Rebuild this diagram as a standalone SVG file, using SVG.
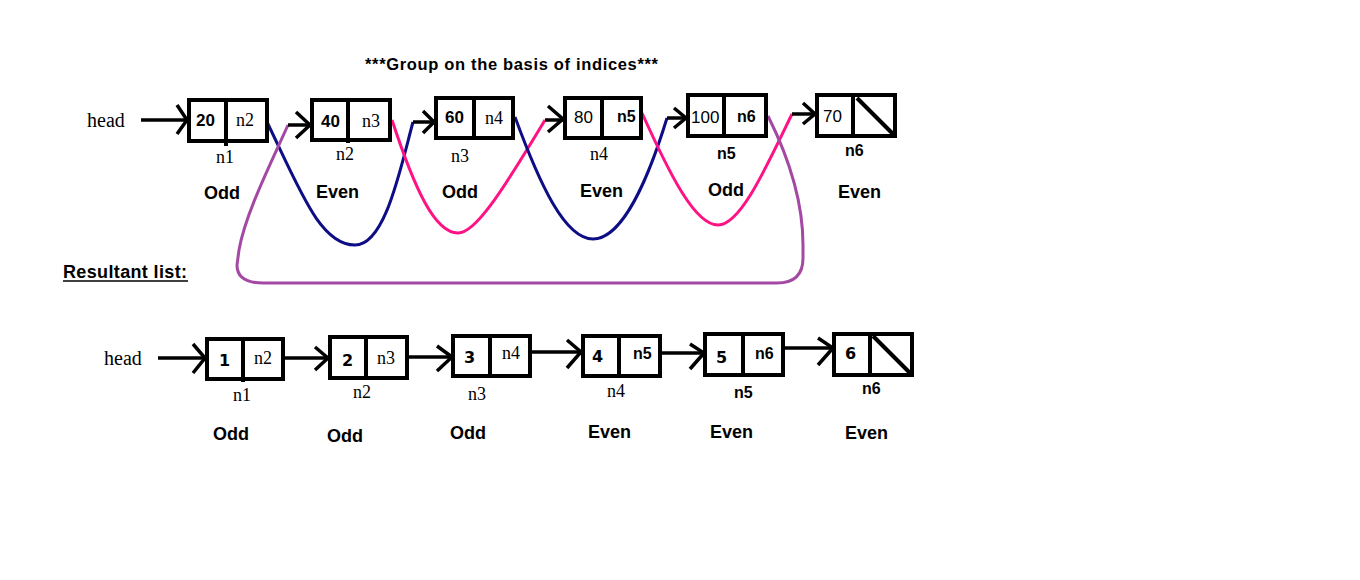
<svg xmlns="http://www.w3.org/2000/svg" width="1360" height="580" viewBox="0 0 1360 580">
<style>
.box{fill:#fff;stroke:#000;stroke-width:4}
.div{stroke:#000;stroke-width:4}
.ln{stroke:#000;stroke-width:3.5;fill:none}
.chev{stroke:#000;stroke-width:3.5;fill:none;stroke-linejoin:miter}
.serif{font-family:"Liberation Serif","Times New Roman",serif;fill:#000}
.val{font-family:"Liberation Sans",Arial,sans-serif;font-weight:bold;font-size:17px;fill:#000}
.valr{font-family:"Liberation Sans",Arial,sans-serif;font-size:17px;fill:#000}
.nb{font-family:"Liberation Sans",Arial,sans-serif;font-weight:bold;font-size:16px;fill:#000}
.lab{font-family:"Liberation Sans",Arial,sans-serif;font-weight:bold;font-size:18px;fill:#000}
.big{font-family:"DejaVu Sans",Verdana,sans-serif;font-weight:bold;font-size:16px;fill:#000}
.curve{fill:none;stroke-width:3}
</style>
<rect width="1360" height="580" fill="#fff"/>
<text x="365" y="70" font-family="Liberation Sans, Arial, sans-serif" font-weight="bold" font-size="16.5px" textLength="293" lengthAdjust="spacing">***Group on the basis of indices***</text>

<g id="connectors">
  <path class="curve" stroke="#0D0D85" d="M267,122 C300,190 320,245 355,245 C385,245 400,170 413,122"/>
  <path class="curve" stroke="#FF1283" d="M392,120 C415,190 435,233 458,233 C475,233 500,195 545,120"/>
  <path class="curve" stroke="#0D0D85" d="M515,117 C540,185 565,239 593,239 C622,239 648,180 667,118"/>
  <path class="curve" stroke="#FF1283" d="M642,113 C670,175 695,225 718,225 C740,225 765,170 792,114"/>
  <path class="curve" stroke="#A349A4" d="M288,125 C270,165 245,215 239,250 L237,265 Q237,283 263,283 L777,283 Q803,283 803,258 L803,245 C803,205 790,160 768,116"/>
  <!-- top arrows -->
  <line class="ln" x1="141" y1="120" x2="187" y2="120"/><polyline class="chev" points="177,105 187,120 177,134"/>
  <line class="ln" x1="288" y1="125" x2="310" y2="125"/><polyline class="chev" points="296,112 310,125 296,138"/>
  <line class="ln" x1="413" y1="122" x2="434" y2="122"/><polyline class="chev" points="423,111 434,122 423,133"/>
  <line class="ln" x1="545" y1="120" x2="563" y2="120"/><polyline class="chev" points="548,106 563,119 548,132"/>
  <line class="ln" x1="667" y1="118" x2="686" y2="118"/><polyline class="chev" points="674,108 686,118 674,128"/>
  <line class="ln" x1="792" y1="114" x2="815" y2="114"/><polyline class="chev" points="803,103 815,114 803,124"/>
  <!-- bottom arrows -->
  <line class="ln" x1="158" y1="358" x2="205" y2="358"/><polyline class="chev" points="193,344 205,358 193,373"/>
  <line class="ln" x1="285" y1="358" x2="328" y2="358"/><polyline class="chev" points="315,347 328,358 315,370"/>
  <line class="ln" x1="409" y1="357" x2="452" y2="357"/><polyline class="chev" points="437,346 452,357 437,371"/>
  <line class="ln" x1="532" y1="352" x2="581" y2="352"/><polyline class="chev" points="567,340 581,352 567,368"/>
  <line class="ln" x1="662" y1="353" x2="704" y2="353"/><polyline class="chev" points="690,344 704,353 690,369"/>
  <line class="ln" x1="785" y1="348" x2="833" y2="348"/><polyline class="chev" points="818,338 833,348 818,365"/>
</g>

<text class="serif" x="87" y="127" font-size="20px">head</text>
<text class="serif" x="104" y="365" font-size="20px">head</text>

<g id="t1">
  <rect class="box" x="189" y="100" width="78" height="41"/>
  <line class="div" x1="226" y1="100" x2="226" y2="146"/>
  <text class="val" x="196" y="126">20</text>
  <text class="serif" x="236" y="126" font-size="18px">n2</text>
  <text class="serif" x="216" y="163" font-size="18px">n1</text>
  <text class="lab" x="204" y="199">Odd</text>
</g>
<g id="t2">
  <rect class="box" x="312" y="100" width="78" height="40"/>
  <line class="div" x1="348" y1="100" x2="348" y2="143"/>
  <text class="val" x="321" y="127">40</text>
  <text class="serif" x="362" y="127" font-size="18px">n3</text>
  <text class="serif" x="336" y="160" font-size="18px">n2</text>
  <text class="lab" x="316" y="198">Even</text>
</g>
<g id="t3">
  <rect class="box" x="436" y="98" width="77" height="40"/>
  <line class="div" x1="474" y1="98" x2="474" y2="138"/>
  <text class="val" x="445" y="123">60</text>
  <text class="serif" x="485" y="124" font-size="18px">n4</text>
  <text class="serif" x="451" y="162" font-size="18px">n3</text>
  <text class="lab" x="442" y="198">Odd</text>
</g>
<g id="t4">
  <rect class="box" x="565" y="98" width="76" height="40"/>
  <line class="div" x1="602" y1="98" x2="602" y2="138"/>
  <text class="valr" x="574" y="123">80</text>
  <text class="nb" x="617" y="122">n5</text>
  <text class="serif" x="590" y="160" font-size="18px">n4</text>
  <text class="lab" x="580" y="197">Even</text>
</g>
<g id="t5">
  <rect class="box" x="688" y="95" width="78" height="41"/>
  <line class="div" x1="724" y1="95" x2="724" y2="136"/>
  <text class="valr" x="691" y="123">100</text>
  <text class="nb" x="737" y="122">n6</text>
  <text class="nb" x="717" y="159">n5</text>
  <text class="lab" x="708" y="196">Odd</text>
</g>
<g id="t6">
  <rect class="box" x="817" y="95" width="78" height="41"/>
  <line class="div" x1="853" y1="95" x2="853" y2="136"/>
  <line class="div" x1="857" y1="98" x2="893" y2="134"/>
  <text class="valr" x="823" y="122">70</text>
  <text class="nb" x="845" y="156">n6</text>
  <text class="lab" x="838" y="198">Even</text>
</g>

<g id="resultant-label">
  <text class="lab" x="63" y="278" textLength="124" lengthAdjust="spacing">Resultant list:</text>
  <line x1="63" y1="281" x2="188" y2="281" stroke="#000" stroke-width="1.5"/>
</g>

<g id="b1">
  <rect class="box" x="207" y="339" width="76" height="40"/>
  <line class="div" x1="243" y1="339" x2="243" y2="382"/>
  <text class="big" x="219" y="366">1</text>
  <text class="serif" x="254" y="364" font-size="18px">n2</text>
  <text class="serif" x="233" y="401" font-size="18px">n1</text>
  <text class="lab" x="213" y="440">Odd</text>
</g>
<g id="b2">
  <rect class="box" x="330" y="337" width="77" height="41"/>
  <line class="div" x1="366" y1="337" x2="366" y2="378"/>
  <text class="big" x="342" y="366">2</text>
  <text class="serif" x="377" y="364" font-size="18px">n3</text>
  <text class="serif" x="353" y="398" font-size="18px">n2</text>
  <text class="lab" x="327" y="442">Odd</text>
</g>
<g id="b3">
  <rect class="box" x="453" y="336" width="77" height="40"/>
  <line class="div" x1="490" y1="336" x2="490" y2="376"/>
  <text class="big" x="464" y="363">3</text>
  <text class="serif" x="502" y="359" font-size="18px">n4</text>
  <text class="serif" x="468" y="400" font-size="18px">n3</text>
  <text class="lab" x="450" y="439">Odd</text>
</g>
<g id="b4">
  <rect class="box" x="583" y="336" width="77" height="40"/>
  <line class="div" x1="619" y1="336" x2="619" y2="376"/>
  <text class="big" x="592" y="362">4</text>
  <text class="nb" x="633" y="359">n5</text>
  <text class="serif" x="607" y="397" font-size="18px">n4</text>
  <text class="lab" x="588" y="438">Even</text>
</g>
<g id="b5">
  <rect class="box" x="705" y="334" width="78" height="41"/>
  <line class="div" x1="743" y1="334" x2="743" y2="375"/>
  <text class="big" x="716" y="363">5</text>
  <text class="nb" x="755" y="359">n6</text>
  <text class="nb" x="734" y="398">n5</text>
  <text class="lab" x="710" y="438">Even</text>
</g>
<g id="b6">
  <rect class="box" x="834" y="334" width="78" height="41"/>
  <line class="div" x1="870" y1="334" x2="870" y2="375"/>
  <line class="div" x1="873" y1="336" x2="910" y2="373"/>
  <text class="big" x="845" y="359">6</text>
  <text class="nb" x="862" y="394">n6</text>
  <text class="lab" x="845" y="439">Even</text>
</g>
</svg>
